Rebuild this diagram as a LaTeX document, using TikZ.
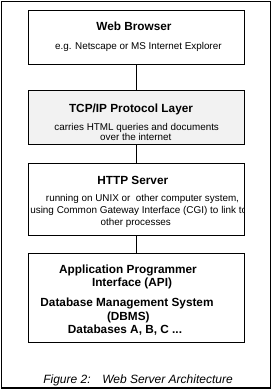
\documentclass[tikz,border=0pt]{standalone}
\usepackage{fontspec}
\setmainfont{Liberation Sans}
\begin{document}
\begin{tikzpicture}[x=0.75pt,y=-0.75pt,
  box/.style={draw, line width=0.75pt, inner sep=0pt, outer sep=0pt, minimum width=162.5pt},
  conn/.style={draw, line width=0.75pt},
  ttl/.style={anchor=base, inner sep=0pt, font=\fontsize{8.85pt}{10pt}\selectfont\bfseries},
  sub/.style={anchor=base, inner sep=0pt, font=\fontsize{7.4pt}{9pt}\selectfont},
  captext/.style={anchor=base west, inner sep=0pt, font=\fontsize{9pt}{10pt}\selectfont\itshape}]
\useasboundingbox (0,0) rectangle (274,391);
\draw[line width=1pt] (1.5,1.5) rectangle (270.5,388);
% boxes
\node[box, minimum height=40.35pt] (b1) at (136.65,37.4) {};
\node[box, minimum height=40.5pt, fill=black!5] (b2) at (136.65,118) {};
\node[box, minimum height=54.5pt] (b3) at (136.65,199.65) {};
\node[box, minimum height=67pt] (b4) at (136.65,298) {};
% connectors
\draw[conn] (b1.south) -- (b2.north);
\draw[conn] (b2.south) -- (b3.north);
\draw[conn] (b3.south) -- (b4.north);
% box 1
\node[ttl] (t1) at (134,31) {Web Browser};
\node[sub] (s1) at (138.3,49.5) {e.g. Netscape or MS Internet Explorer};
% box 2
\node[ttl] (t2) at (131,112.5) {TCP/IP Protocol Layer};
\node[sub] (s2a) at (136.7,130.5) {carries HTML queries and documents};
\node[sub] (s2b) at (135.8,141) {over the internet};
% box 3
\node[ttl] (t3) at (132.8,184.2) {HTTP Server};
\node[sub] (s3a) at (142.5,201) {running on UNIX or\ \ other computer system,};
\begin{scope}
\clip (b3.south west) rectangle (b3.north east);
\node[sub, anchor=base west, font=\fontsize{7.45pt}{9pt}\selectfont] (s3b) at (30,213) {using Common Gateway Interface (CGI) to link to};
\end{scope}
\node[sub] (s3c) at (135.8,225.5) {other processes};
% box 4
\node[ttl] (t4a) at (128,273.2) {Application Programmer};
\node[ttl] (t4b) at (132,286.7) {Interface (API)};
\node[ttl] (t4c) at (127,306.7) {Database Management System};
\node[ttl] (t4d) at (128.3,320.9) {(DBMS)};
\node[ttl] (t4e) at (125,333.2) {Databases A, B, C ...};
% caption
\node[captext] (c1) at (43,383) {Figure 2:};
\node[captext] (c2) at (102,383) {Web Server Architecture};
\end{tikzpicture}
\end{document}
